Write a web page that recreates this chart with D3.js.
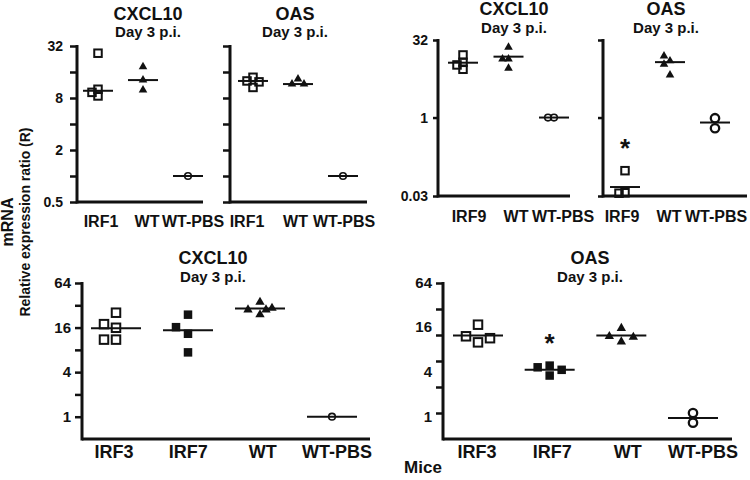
<!DOCTYPE html>
<html><head><meta charset="utf-8">
<script src="https://cdn.jsdelivr.net/npm/d3@7"></script>
<style>
body{margin:0;background:#fff;}
svg{display:block;}
text{font-family:"Liberation Sans",Arial,sans-serif;font-weight:bold;fill:#111;}
.narrow{font-family:"Liberation Sans Narrow","Arial Narrow","Liberation Sans",sans-serif;}
</style></head><body>
<svg id="chart" width="750" height="480"></svg>
<script>
// ---------------- data ----------------
const subtitle = "Day 3 p.i.";
const yLabel1 = "mRNA";
const yLabel2 = "Relative expression ratio (R)";
const xLabel = "Mice";

const catsA = ["IRF1", "WT", "WT-PBS"];
const catsC = ["IRF9", "WT", "WT-PBS"];
const catsE = ["IRF3", "IRF7", "WT", "WT-PBS"];

// Panel A – CXCL10 (IRF1 study)
const a_IRF1 = [26.4, 10.1, 8.45, 9.3];
const a_WT = [18.4, 12.9, 9.9];
const a_PBS = [1.0];
const a_lines = [9.7, 12.9, 1.0];
// Panel B – OAS (IRF1 study)
const b_IRF1 = [13.9, 12.6, 12.3, 10.6];
const b_WT = [13.3, 11.6, 11.6];
const b_PBS = [1.0];
const b_lines = [12.6, 11.6, 1.0];
// Panel C – CXCL10 (IRF9 study)
const c_IRF9 = [16.4, 8.65, 11.8, 10.5];
const c_WT = [23.1, 13.7, 13.7, 9.05];
const c_PBS = [1.0, 1.0];
const c_lines = [11.6, 15.2, 1.0];
// Panel D – OAS (IRF9 study)
const d_IRF9 = [0.093, 0.0347, 0.034];
const d_WT = [12.6, 15.7, 10.8, 6.7];
const d_PBS = [0.97, 0.62];
const d_lines = [0.0448, 11.9, 0.80];
// Panel E – CXCL10 (IRF3/IRF7 study)
const e_IRF3 = [25.4, 15.9, 17.8, 11.0, 11.0];
const e_IRF7 = [23.9, 13.2, 16.2, 7.4];
const e_WT = [35.3, 23.9, 27.9, 29.3, 27.9];
const e_PBS = [1.0];
const e_lines = [15.7, 14.7, 29.0, 1.0];
// Panel F – OAS (IRF3/IRF7 study)
const f_IRF3 = [17.5, 10.1, 12.2, 11.5];
const f_IRF7 = [4.9, 3.6, 4.65, 4.3];
const f_WT = [15.7, 10.3, 12.2, 11.9];
const f_PBS = [1.12, 0.83];
const f_lines = [12.5, 4.3, 12.5, 0.96];

// tick values / labels
const ticksTopLeft = [32, 16, 8, 4, 2, 1, 0.5];
const labelsTopLeft = [32, 8, 2, 0.5];
const ticksTopRight = [32, 1, 0.03];
const labelsTopRight = [32, 1, 0.03];
const ticksBottom = [64, 32, 16, 8, 4, 2, 1];
const labelsBottom = [64, 16, 4, 1];

// significance marks (panel, category)
const sigD = ["IRF9"];
const sigF = ["IRF7"];

// ---------------- layout ----------------
const svg = d3.select("#chart");
const shapeOf = c => c === "WT" ? "tri" : c === "WT-PBS" ? "circle" : c === "IRF7" ? "fsq" : "osq";

const fTicks = d3.range(6).map(i => 64 * Math.pow(2, -7 * i / 6));

const panels = [
  {title:"CXCL10", cats:catsA, series:[a_IRF1,a_WT,a_PBS], lines:a_lines, x0:77, x1:203, yTop:46, yBot:202,
   domain:[0.5,32], ticks:ticksTopLeft, labels:labelsTopLeft, pt:[98,188], lab:[101,193], titleX:148, titleY:20, subY:37,
   labY:227, small:true, tickLen:7, tickPad:7, tickFont:14, sig:[]},
  {title:"OAS", cats:catsA, series:[b_IRF1,b_WT,b_PBS], lines:b_lines, x0:230, x1:367, yTop:46, yBot:202,
   domain:[0.5,32], ticks:ticksTopLeft, labels:[], pt:[253,343], lab:[247,344], titleX:295, titleY:20, subY:37,
   labY:227, small:true, tickLen:7, tickPad:7, tickFont:14, sig:[]},
  {title:"CXCL10", cats:catsC, series:[c_IRF9,c_WT,c_PBS], lines:c_lines, x0:438, x1:570, yTop:40, yBot:196,
   domain:[0.03,32], ticks:ticksTopRight, labels:labelsTopRight, pt:[463,554], lab:[469,563], titleX:514, titleY:15, subY:33,
   labY:222, small:true, tickLen:5, tickPad:5, tickFont:14, sig:[]},
  {title:"OAS", cats:catsC, series:[d_IRF9,d_WT,d_PBS], lines:d_lines, x0:603, x1:747, yTop:40, yBot:196,
   domain:[0.03,32], ticks:ticksTopRight, labels:[], pt:[625,715], lab:[622,716], titleX:666, titleY:15, subY:33,
   labY:222, small:true, tickLen:5, tickPad:5, tickFont:14, sig:sigD, bigCircle:true},
  {title:"CXCL10", cats:catsE, series:[e_IRF3,e_IRF7,e_WT,e_PBS], lines:e_lines, x0:82, x1:370, yTop:283, yBot:439,
   domain:[0.5,64], ticks:ticksBottom, labels:labelsBottom, pt:[116,332], lab:[114,337], titleX:213, titleY:264, subY:282,
   labY:458, small:false, tickLen:7, tickPad:4, tickFont:15, sig:[]},
  {title:"OAS", cats:catsE, series:[f_IRF3,f_IRF7,f_WT,f_PBS], lines:f_lines, x0:443, x1:732, yTop:283, yBot:439,
   domain:[0.5,64], ticks:fTicks, labels:labelsBottom, pt:[478,693], lab:[477,703], titleX:590, titleY:264, subY:282,
   labY:458, small:false, tickLen:7, tickPad:4, tickFont:15, sig:sigF, bigCircle:true, looseLabels:true}
];

function dodge(vals, y, unit, dxMin, dyMin) {
  const ks = [0, -2, 2, 1, -1, -3, 3, -4, 4];
  const placed = [];
  vals.forEach(v => {
    const yy = y(v);
    for (const k of ks) {
      const dx = k * unit;
      if (placed.every(p => Math.abs(p.dx - dx) >= dxMin || Math.abs(p.y - yy) >= dyMin)) {
        placed.push({v, y: yy, dx}); return;
      }
    }
    placed.push({v, y: yy, dx: 0});
  });
  return placed;
}

panels.forEach(p => {
  const g = svg.append("g");
  const y = d3.scaleLog().base(2).domain(p.domain).range([p.yBot, p.yTop]);
  const x = d3.scalePoint().domain(p.cats).range(p.pt);
  const xl = d3.scalePoint().domain(p.cats).range(p.lab);

  // titles
  g.append("text").attr("x", p.titleX).attr("y", p.titleY).attr("text-anchor", "middle")
    .style("font-size", "18px").text(p.title);
  g.append("text").attr("x", p.titleX).attr("y", p.subY).attr("text-anchor", "middle")
    .style("font-size", "15px").text(subtitle);

  // y axis
  const ax = d3.axisLeft(y).tickValues(p.ticks).tickSize(p.tickLen).tickSizeOuter(0).tickPadding(p.tickPad)
    .tickFormat(d => (!p.looseLabels && p.labels.includes(d)) ? String(d) : "");
  const ag = g.append("g").attr("transform", `translate(${p.x0},0)`).call(ax);
  ag.select(".domain").remove();
  ag.selectAll(".tick line").attr("stroke", "#111").attr("stroke-width", 2.5);
  ag.selectAll(".tick text").attr("fill", "#111")
    .style("font-family", "'Liberation Sans',Arial,sans-serif").style("font-weight", "bold")
    .style("font-size", p.tickFont + "px");
  if (p.looseLabels) {
    g.selectAll(".ylab").data(p.labels).join("text")
      .attr("x", p.x0 - p.tickLen - p.tickPad).attr("y", d => y(d)).attr("dy", "0.32em")
      .attr("text-anchor", "end").style("font-size", p.tickFont + "px").text(d => d);
  }
  // axis lines
  g.append("line").attr("x1", p.x0).attr("x2", p.x0).attr("y1", y(p.domain[1]) - 1).attr("y2", p.yBot + 1.5)
    .attr("stroke", "#111").attr("stroke-width", 3);
  g.append("line").attr("x1", p.x0).attr("x2", p.x1).attr("y1", p.yBot).attr("y2", p.yBot)
    .attr("stroke", "#111").attr("stroke-width", 3);

  // category labels
  g.selectAll(".cat").data(p.cats).join("text").attr("class", "narrow")
    .attr("x", d => xl(d)).attr("y", p.labY).attr("text-anchor", "middle")
    .style("font-size", (p.small ? 16 : 18) + "px").text(d => d);

  const unit = p.small ? 3 : 6, dxMin = p.small ? 5 : 6, dyMin = p.small ? 6 : 9;
  const lineW = p.small ? 30 : 50;
  const sq = p.small ? 7.5 : 8.5;

  p.cats.forEach((c, i) => {
    const cx = x(c);
    // median line
    g.append("line").attr("x1", cx - lineW / 2).attr("x2", cx + lineW / 2)
      .attr("y1", y(p.lines[i])).attr("y2", y(p.lines[i])).attr("stroke", "#111").attr("stroke-width", 2);
    const pts = dodge(p.series[i], y, unit, dxMin, dyMin);
    const shape = shapeOf(c);
    pts.forEach(pt => {
      const px = cx + pt.dx, py = pt.y;
      if (shape === "osq") {
        g.append("rect").attr("x", px - sq / 2).attr("y", py - sq / 2).attr("width", sq).attr("height", sq)
          .attr("fill", "none").attr("stroke", "#111").attr("stroke-width", 2);
      } else if (shape === "fsq") {
        g.append("rect").attr("x", px - sq / 2).attr("y", py - sq / 2).attr("width", sq).attr("height", sq)
          .attr("fill", "#111");
      } else if (shape === "tri") {
        g.append("path").attr("d", d3.symbol(d3.symbolTriangle, p.small ? 32 : 38)())
          .attr("transform", `translate(${px},${py})`).attr("fill", "#111");
      } else {
        const r = p.bigCircle ? 4.2 : 3.3;
        g.append("circle").attr("cx", px).attr("cy", py).attr("r", r)
          .attr("fill", "none").attr("stroke", "#111").attr("stroke-width", p.bigCircle ? 2.3 : 1.6);
      }
    });
    if (p.sig.includes(c)) {
      const top = d3.min(pts, d => d.y);
      g.append("text").attr("x", cx).attr("y", top - 29 + 15).attr("text-anchor", "middle")
        .style("font-size", "26px").text("*");
    }
  });
});

// shared axis titles
svg.append("text").attr("transform", "translate(13,222) rotate(-90)").attr("text-anchor", "middle")
  .style("font-size", "16px").text(yLabel1);
svg.append("text").attr("transform", "translate(30,222) rotate(-90)").attr("text-anchor", "middle")
  .style("font-size", "14px").text(yLabel2);
svg.append("text").attr("class", "narrow").attr("x", 423).attr("y", 473).attr("text-anchor", "middle")
  .style("font-size", "17px").text(xLabel);
</script>
</body></html>
